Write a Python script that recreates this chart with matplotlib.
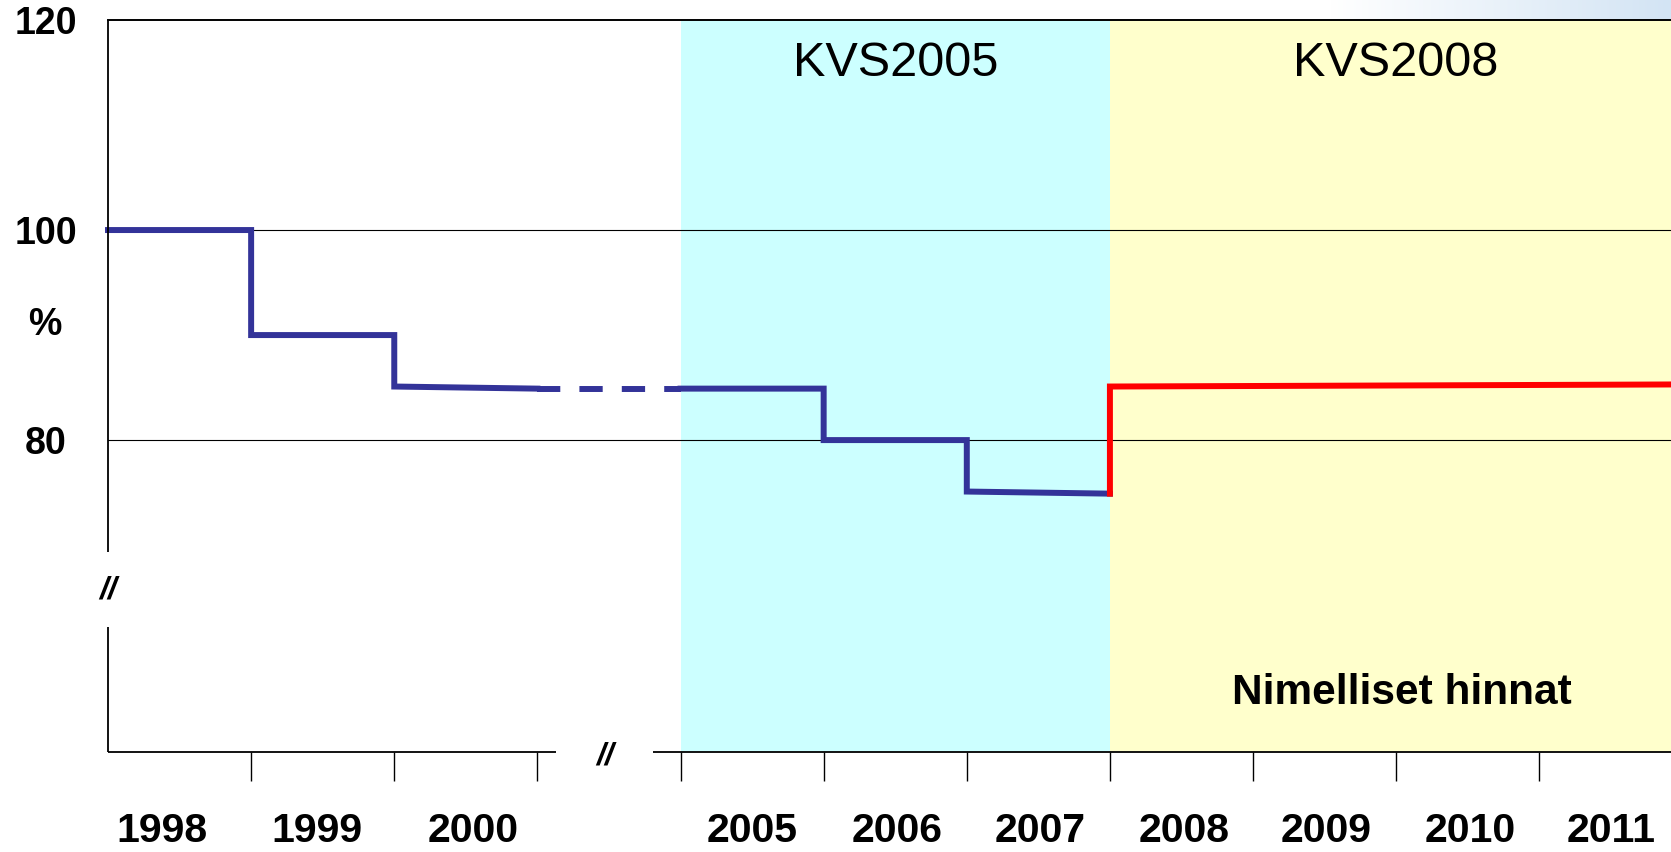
import numpy as np
import matplotlib
matplotlib.use("Agg")
import matplotlib.pyplot as plt
from matplotlib.colors import LinearSegmentedColormap

# ---- data ----
year_labels = ['1998', '1999', '2000', '2005', '2006', '2007', '2008', '2009', '2010', '2011']
year_slots = [0, 1, 2, 4, 5, 6, 7, 8, 9, 10]          # slot 3 is the axis break
label_pos = [0.38, 1.46, 2.55, 4.5, 5.51, 6.51, 7.52, 8.51, 9.52, 10.5]
blue_start = [100, 90, 85.1, 84.9, 80.0, 75.1]         # 1998..2007, value at start of year
blue_end = [100, 90, 84.9, 84.9, 80.0, 74.9]           # value at end of year
gap_level = 84.9                                         # dashed link 2000 -> 2005
red_start = [85.1, 85.15, 85.2, 85.25]                 # 2008..2011
red_end = [85.15, 85.2, 85.25, 85.3]
y_ticks = [80, 100, 120]
kvs_labels = ['KVS2005', 'KVS2008']

W, H = 1671, 852
fig = plt.figure(figsize=(W / 100, H / 100), dpi=100)
fig.patch.set_facecolor('white')

# slide background gradient at top right
gax = fig.add_axes([1330 / W, (H - 20) / H, 1 - 1330 / W, 20 / H], zorder=-5)
cmap = LinearSegmentedColormap.from_list('g', ['#FFFFFF', '#D3E4F4'])
gax.imshow(np.linspace(0, 1, 256)[None, :], aspect='auto', cmap=cmap,
           extent=[0, 1, 0, 1])
gax.axis('off')

left_px, bottom_px, top_px = 108, 752, 20
ax = fig.add_axes([left_px / W, (H - bottom_px) / H, 1 - left_px / W,
                   (bottom_px - top_px) / H])
ax.set_xlim(0, 10.92)
ax.set_ylim(50.3, 120)
ax.set_facecolor('none')

# period shading
ax.axvspan(4, 7, color='#CCFFFF', zorder=0, lw=0)
ax.axvspan(7, 11, color='#FFFFCC', zorder=0, lw=0)

# gridlines
for yv in [80, 100]:
    ax.axhline(yv, color='black', lw=0.8, zorder=1)


def step_path(slots, starts, ends):
    xs, ys = [], []
    for s, a, b in zip(slots, starts, ends):
        xs += [s, s + 1]
        ys += [a, b]
    return xs, ys


LW = 4.3
blue_slots = [year_slots[i] for i in range(6)]
xs1, ys1 = step_path(blue_slots[:3], blue_start[:3], blue_end[:3])
xs2, ys2 = step_path(blue_slots[3:], blue_start[3:], blue_end[3:])
blue = '#333399'
ax.plot(xs1, ys1, color=blue, lw=LW, zorder=3, solid_joinstyle='miter', clip_on=False)
ax.plot([3, 4], [gap_level, gap_level], color=blue, lw=LW, zorder=3,
        linestyle=(0, (3.9, 3.2)), dash_capstyle='butt')
ax.plot(xs2, ys2, color=blue, lw=LW, zorder=3, solid_joinstyle='miter')

xr, yr = step_path(year_slots[6:], red_start, red_end)
ax.plot([7] + xr, [blue_end[-1]] + yr, color='#FF0000', lw=LW, zorder=4,
        solid_joinstyle='miter', clip_on=False)

# spines with breaks
for s in ['left', 'bottom', 'right']:
    ax.spines[s].set_visible(False)
ax.spines['top'].set_linewidth(1.4)
ax.spines['top'].set_color('black')
kw = dict(color='black', lw=1.3, clip_on=False, zorder=5, solid_capstyle='butt')
ax.plot([0, 0], [120, 69.3], **kw)
ax.plot([0, 0], [62.2, 50.3], **kw)
ax.plot([0, 3.13], [50.3, 50.3], **kw)
ax.plot([3.81, 10.92], [50.3, 50.3], **kw)
ax.text(0, 65.7, '//', ha='center', va='center', fontsize=23,
        family='Liberation Sans', weight='bold', style='italic', clip_on=False)
ax.text(3.47, 49.9, '//', ha='center', va='center', fontsize=23,
        family='Liberation Sans', weight='bold', style='italic', clip_on=False)

# x ticks: boundaries (major) and year labels (minor)
ax.set_xticks(range(1, 11))
ax.set_xticklabels([])
ax.tick_params(axis='x', which='major', direction='out', length=21, width=1.0,
               color='black')
ax.set_xticks(label_pos, minor=True)
ax.set_xticklabels(year_labels, minor=True, fontsize=29.5, weight='bold',
                   family='Liberation Sans')
ax.tick_params(axis='x', which='minor', length=0, pad=43)

# y ticks
ax.set_yticks(y_ticks)
ax.set_yticklabels([str(v) for v in y_ticks], fontsize=27, weight='bold',
                   family='Liberation Sans', ha='center')
ax.tick_params(axis='y', length=0, pad=45)
ax.text(-63 / 143.3, 91, '%', ha='center', va='center', fontsize=27,
        weight='bold', family='Liberation Sans', clip_on=False)

# period labels
ax.text(5.5, 115.9, kvs_labels[0], ha='center', va='center', fontsize=35,
        family='Liberation Sans')
ax.text(9.0, 115.9, kvs_labels[1], ha='center', va='center', fontsize=35,
        family='Liberation Sans')
ax.text(9.04, 55.9, 'Nimelliset hinnat', ha='center', va='center', fontsize=30.5,
        weight='bold', family='Liberation Sans')

fig.savefig('out.png', dpi=100)
